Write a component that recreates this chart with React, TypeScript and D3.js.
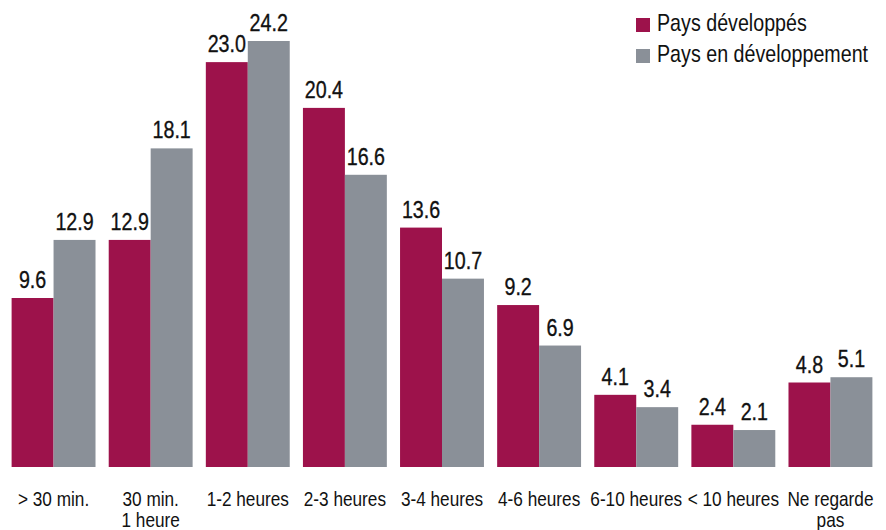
import React, { useEffect, useRef } from 'react'
import * as d3 from 'd3'

const categories = ['> 30 min.', '30 min.|1 heure', '1-2 heures', '2-3 heures', '3-4 heures', '4-6 heures', '6-10 heures', '< 10 heures', 'Ne regarde|pas']
const developpes = [9.6, 12.9, 23.0, 20.4, 13.6, 9.2, 4.1, 2.4, 4.8]
const enDeveloppement = [12.9, 18.1, 24.2, 16.6, 10.7, 6.9, 3.4, 2.1, 5.1]
const seriesNames = ['Pays développés', 'Pays en développement']
const colors = ['#9d124b', '#8a9098']

export default function App() {
    const ref = useRef<SVGSVGElement | null>(null)
    const width = 886
    const height = 530
    // no condensed font installed, so squeeze Liberation Sans horizontally
    const font = "'Liberation Sans', Arial, sans-serif"
    const squeeze = 0.82

    function draw() {
        const svg = d3.select(ref.current)
        svg.selectAll('*').remove()

        const x0 = d3.scaleBand<number>()
            .domain(d3.range(categories.length))
            .range([5, 879])
            .paddingInner(0.136)
            .paddingOuter(0.068)
        const x1 = d3.scaleBand<number>()
            .domain([0, 1])
            .range([0, x0.bandwidth()])
        const y = d3.scaleLinear().domain([0, 24.2]).range([467, 41])

        const data = [developpes, enDeveloppement]

        const label = (sel: any, px: number, py: number, size: number, txt: string, anchor = 'middle') =>
            sel.append('text')
                .attr('transform', 'translate(' + px + ',' + py + ') scale(' + squeeze + ',1)')
                .attr('text-anchor', anchor)
                .style('font-family', font)
                .style('font-size', size + 'px')
                .attr('fill', '#111')
                .text(txt)

        const g = svg.append('g')
        categories.forEach((c, i) => {
            const grp = g.append('g').attr('transform', 'translate(' + x0(i) + ',0)')
            data.forEach((series, s) => {
                const v = series[i]
                grp.append('rect')
                    .attr('x', x1(s)!)
                    .attr('y', y(v))
                    .attr('width', x1.bandwidth())
                    .attr('height', y(0) - y(v))
                    .attr('fill', colors[s])
                label(grp, x1(s)! + x1.bandwidth() / 2, y(v) - 10, 24, v.toFixed(1))
                    .attr('stroke', '#111')
                    .attr('stroke-width', 0.35)
            })
            c.split('|').forEach((l, k) => {
                label(grp, x0.bandwidth() / 2, 506 + k * 21, 21, l)
            })
        })

        // legend
        const legend = svg.append('g').attr('transform', 'translate(636,0)')
        seriesNames.forEach((n, i) => {
            legend.append('rect')
                .attr('x', 0)
                .attr('y', 18 + i * 31)
                .attr('width', 14)
                .attr('height', 14)
                .attr('fill', colors[i])
            label(legend, 21, 31 + i * 31, 24, n, 'start')
        })
    }

    useEffect(() => {
        draw()
    }, [])

    return (
        <svg ref={ref} width={width} height={height}
            style={{ position: 'absolute', left: 0, top: 0, background: '#fff' }} />
    )
}
